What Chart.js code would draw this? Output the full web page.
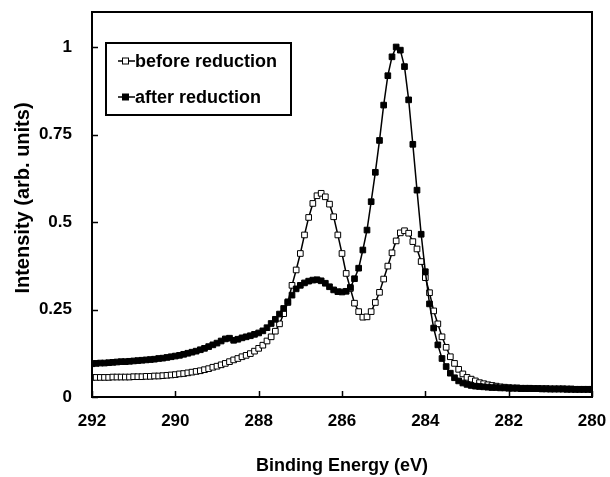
<!DOCTYPE html>
<html>
<head>
<meta charset="utf-8">
<script src="https://cdn.jsdelivr.net/npm/chart.js@4/dist/chart.umd.min.js"></script>
<style>
  html, body { margin: 0; padding: 0; background: #fff; }
  #wrap { width: 610px; height: 477px; position: relative; }
</style>
</head>
<body>
<div id="wrap"><canvas id="c" width="610" height="477"></canvas></div>
<script>
const energies = [
  292.0,291.9,291.8,291.7,291.6,291.5,291.4,291.3,291.2,291.1,
  291.0,290.9,290.8,290.7,290.6,290.5,290.4,290.3,290.2,290.1,
  290.0,289.9,289.8,289.7,289.6,289.5,289.4,289.3,289.2,289.1,
  289.0,288.9,288.8,288.7,288.6,288.5,288.4,288.3,288.2,288.1,
  288.0,287.9,287.8,287.7,287.6,287.5,287.4,287.3,287.2,287.1,
  287.0,286.9,286.8,286.7,286.6,286.5,286.4,286.3,286.2,286.1,
  286.0,285.9,285.8,285.7,285.6,285.5,285.4,285.3,285.2,285.1,
  285.0,284.9,284.8,284.7,284.6,284.5,284.4,284.3,284.2,284.1,
  284.0,283.9,283.8,283.7,283.6,283.5,283.4,283.3,283.2,283.1,
  283.0,282.9,282.8,282.7,282.6,282.5,282.4,282.3,282.2,282.1,
  282.0,281.9,281.8,281.7,281.6,281.5,281.4,281.3,281.2,281.1,
  281.0,280.9,280.8,280.7,280.6,280.5,280.4,280.3,280.2,280.1,
  280.0
];
const beforeReduction = [
  0.056,0.056,0.056,0.056,0.056,0.057,0.057,0.057,0.057,0.057,
  0.058,0.058,0.058,0.059,0.059,0.060,0.060,0.061,0.062,0.063,
  0.064,0.066,0.067,0.069,0.071,0.073,0.075,0.078,0.081,0.085,
  0.088,0.092,0.096,0.101,0.106,0.110,0.115,0.119,0.124,0.131,
  0.139,0.148,0.160,0.172,0.188,0.209,0.238,0.270,0.319,0.363,
  0.410,0.463,0.513,0.553,0.575,0.582,0.572,0.551,0.515,0.463,
  0.410,0.353,0.310,0.268,0.244,0.228,0.229,0.244,0.270,0.299,
  0.337,0.374,0.412,0.446,0.469,0.475,0.468,0.444,0.423,0.387,
  0.341,0.298,0.246,0.209,0.172,0.142,0.115,0.096,0.079,0.066,
  0.056,0.051,0.046,0.041,0.038,0.035,0.033,0.031,0.029,0.028,
  0.027,0.026,0.026,0.025,0.025,0.025,0.024,0.024,0.024,0.024,
  0.023,0.023,0.023,0.023,0.023,0.023,0.022,0.022,0.022,0.022,
  0.022
];
const afterReduction = [
  0.095,0.096,0.097,0.097,0.098,0.099,0.100,0.101,0.101,0.102,
  0.103,0.104,0.105,0.106,0.107,0.108,0.110,0.111,0.113,0.115,
  0.117,0.119,0.122,0.125,0.128,0.131,0.135,0.139,0.144,0.149,
  0.154,0.160,0.166,0.168,0.162,0.165,0.169,0.172,0.175,0.179,
  0.183,0.189,0.198,0.210,0.222,0.237,0.253,0.272,0.291,0.309,
  0.319,0.326,0.331,0.334,0.335,0.332,0.325,0.315,0.306,0.301,
  0.300,0.302,0.313,0.338,0.368,0.420,0.477,0.558,0.642,0.733,
  0.834,0.918,0.972,1.000,0.991,0.944,0.849,0.722,0.591,0.465,
  0.358,0.266,0.197,0.149,0.110,0.087,0.068,0.055,0.046,0.040,
  0.036,0.033,0.031,0.030,0.029,0.028,0.027,0.027,0.026,0.026,
  0.025,0.025,0.025,0.024,0.024,0.024,0.024,0.024,0.023,0.023,
  0.023,0.023,0.023,0.023,0.022,0.022,0.022,0.022,0.022,0.022,
  0.022
];
const seriesLabels = ['before reduction', 'after reduction'];
const xTickValues = [292, 290, 288, 286, 284, 282, 280];
const yTickValues = [0, 0.25, 0.5, 0.75, 1];
const yTickLabels = ['0', '0.25', '0.5', '0.75', '1'];
const xTitle = 'Binding Energy (eV)';
const yTitle = 'Intensity (arb. units)';

const FONT = '"Liberation Sans", Arial, sans-serif';

function toPoints(xs, ys) { return xs.map((x, i) => ({ x: x, y: ys[i] })); }

function noPad(s) { s.paddingTop = 0; s.paddingBottom = 0; s.paddingLeft = 0; s.paddingRight = 0; }

const framePlugin = {
  id: 'framePlugin',
  afterDraw(chart) {
    const ctx = chart.ctx;
    const a = chart.chartArea;
    const xs = chart.scales.x, ys = chart.scales.y;
    ctx.save();
    ctx.strokeStyle = '#000';
    ctx.lineWidth = 2;
    ctx.strokeRect(a.left, a.top, a.right - a.left, a.bottom - a.top);
    ctx.lineWidth = 1.5;
    ctx.beginPath();
    xs.ticks.forEach(t => {
      const px = Math.round(xs.getPixelForValue(t.value)) + 0.5;
      ctx.moveTo(px, a.bottom);
      ctx.lineTo(px, a.bottom - 6);
    });
    ys.ticks.forEach(t => {
      const py = Math.round(ys.getPixelForValue(t.value)) + 0.5;
      ctx.moveTo(a.left, py);
      ctx.lineTo(a.left + 6, py);
    });
    ctx.stroke();

    // y-axis title
    ctx.save();
    ctx.translate(23, 198);
    ctx.rotate(-Math.PI / 2);
    ctx.fillStyle = '#000';
    ctx.font = 'bold 20px ' + FONT;
    ctx.textAlign = 'center';
    ctx.textBaseline = 'middle';
    ctx.fillText(yTitle, 0, 0);
    ctx.restore();

    // legend
    const bx = 106, by = 43, bw = 185, bh = 72;
    ctx.fillStyle = '#fff';
    ctx.fillRect(bx, by, bw, bh);
    ctx.lineWidth = 2;
    ctx.strokeRect(bx, by, bw, bh);
    const rows = [61, 97];
    chart.data.datasets.forEach((ds, i) => {
      const y = rows[i];
      ctx.lineWidth = 1.5;
      ctx.strokeStyle = '#000';
      ctx.beginPath();
      ctx.moveTo(118, y);
      ctx.lineTo(135, y);
      ctx.stroke();
      ctx.fillStyle = ds.pointBackgroundColor;
      ctx.lineWidth = 1;
      ctx.fillRect(122.5, y - 3, 6, 6);
      ctx.strokeRect(122.5, y - 3, 6, 6);
      ctx.fillStyle = '#000';
      ctx.font = 'bold 18px ' + FONT;
      ctx.textBaseline = 'middle';
      ctx.textAlign = 'left';
      ctx.fillText(ds.label, 135, y + 1);
    });
    ctx.restore();
  }
};

new Chart(document.getElementById('c'), {
  type: 'scatter',
  data: {
    datasets: [
      {
        label: seriesLabels[0],
        data: toPoints(energies, beforeReduction),
        showLine: true,
        borderColor: '#000',
        borderWidth: 1.5,
        pointStyle: 'rect',
        pointRadius: 4,
        pointBorderWidth: 1,
        pointBackgroundColor: '#ffffff',
        pointBorderColor: '#000',
        order: 2
      },
      {
        label: seriesLabels[1],
        data: toPoints(energies, afterReduction),
        showLine: true,
        borderColor: '#000',
        borderWidth: 1.5,
        pointStyle: 'rect',
        pointRadius: 4,
        pointBorderWidth: 1,
        pointBackgroundColor: '#000000',
        pointBorderColor: '#000',
        order: 1
      }
    ]
  },
  options: {
    responsive: false,
    animation: false,
    devicePixelRatio: 1,
    layout: { padding: { left: 0, right: 18, top: 12, bottom: 0 } },
    plugins: { legend: { display: false }, tooltip: { enabled: false } },
    scales: {
      x: {
        type: 'linear',
        reverse: true,
        min: 280,
        max: 292,
        grid: { display: false, drawTicks: false },
        border: { display: false },
        afterBuildTicks: s => { s.ticks = xTickValues.map(v => ({ value: v })); },
        afterFit: s => { s.height = 80; noPad(s); },
        ticks: {
          color: '#000',
          font: { family: FONT, size: 17, weight: 'bold' },
          padding: 14,
          maxRotation: 0,
          autoSkip: false,
          callback: v => String(v)
        },
        title: {
          display: true,
          text: xTitle,
          color: '#000',
          font: { family: FONT, size: 18, weight: 'bold', lineHeight: 1.2 },
          padding: { top: 0, bottom: 0 }
        }
      },
      y: {
        type: 'linear',
        min: 0,
        max: 1.1,
        grid: { display: false, drawTicks: false },
        border: { display: false },
        afterBuildTicks: s => { s.ticks = yTickValues.map(v => ({ value: v })); },
        afterFit: s => { s.width = 92; noPad(s); },
        ticks: {
          color: '#000',
          font: { family: FONT, size: 17, weight: 'bold' },
          padding: 20,
          autoSkip: false,
          callback: (v) => { const i = yTickValues.indexOf(v); return i >= 0 ? yTickLabels[i] : ''; }
        },
        title: { display: false }
      }
    }
  },
  plugins: [framePlugin]
});
</script>
</body>
</html>
